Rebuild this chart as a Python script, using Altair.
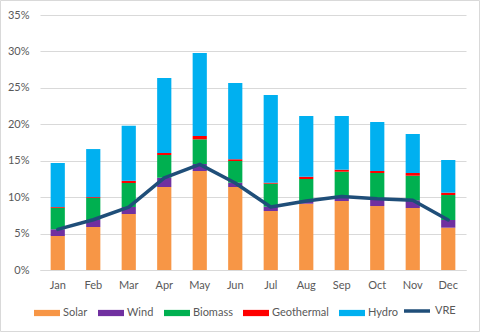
import altair as alt
import pandas as pd

months = ["Jan", "Feb", "Mar", "Apr", "May", "Jun", "Jul", "Aug", "Sep", "Oct", "Nov", "Dec"]
solar = [4.67, 5.90, 7.69, 11.39, 13.59, 11.39, 8.10, 9.10, 9.47, 8.78, 8.51, 5.81]
wind = [0.91, 0.96, 0.96, 1.28, 0.96, 0.59, 0.59, 0.37, 0.59, 1.01, 1.06, 1.05]
biomass = [2.97, 3.02, 3.29, 3.11, 3.39, 2.98, 3.16, 3.02, 3.43, 3.52, 3.37, 3.43]
geothermal = [0.10, 0.12, 0.30, 0.28, 0.45, 0.24, 0.13, 0.31, 0.28, 0.28, 0.37, 0.32]
hydro = [6.04, 6.60, 7.56, 10.29, 11.39, 10.47, 12.04, 8.34, 7.37, 6.72, 5.36, 4.49]
vre = [5.58, 6.90, 8.62, 12.65, 14.50, 11.95, 8.65, 9.47, 10.10, 9.78, 9.57, 6.86]

series = ["Solar", "Wind", "Biomass", "Geothermal", "Hydro"]
colors = ["#F79646", "#7030A0", "#00B050", "#FF0000", "#00B0F0"]
vre_color = "#1F4E79"
y_ticks = [0, 0.05, 0.10, 0.15, 0.20, 0.25, 0.30, 0.35]

rows = []
for i, m in enumerate(months):
    for k, (name, vals) in enumerate(zip(series, [solar, wind, biomass, geothermal, hydro])):
        rows.append({"month": m, "series": name, "value": vals[i] / 100, "order": k})
bars_df = pd.DataFrame(rows)
line_df = pd.DataFrame({"month": months, "line": ["VRE"] * len(months), "value": [v / 100 for v in vre]})

font = "Lato"
gray = "#595959"

x = alt.X("month:N", sort=months, title=None,
          scale=alt.Scale(paddingInner=0.6, paddingOuter=0.3),
          axis=alt.Axis(labelAngle=0, ticks=False, domainColor="#D9D9D9", labelPadding=9))
y = alt.Y("value:Q", title=None,
          scale=alt.Scale(domain=[0, 0.35], nice=False),
          axis=alt.Axis(format=".0%", values=y_ticks, domain=False, ticks=False,
                        labelPadding=11, gridColor="#D9D9D9"))

color = alt.Color("series:N",
                  scale=alt.Scale(domain=series, range=colors),
                  legend=alt.Legend(title=None, orient="none", direction="horizontal",
                                    legendX=-6, legendY=285,
                                    symbolType="M-1,-0.24H1V0.24H-1Z", symbolSize=676,
                                    symbolStrokeWidth=0, labelOffset=3, columnPadding=10,
                                    labelFontSize=11, labelColor=gray, labelFont=font))

stroke = alt.Stroke("line:N",
                    scale=alt.Scale(domain=["VRE"], range=[vre_color]),
                    legend=alt.Legend(title=None, orient="none", direction="horizontal",
                                      legendX=362, legendY=281,
                                      symbolType="stroke", symbolSize=676,
                                      symbolStrokeWidth=3.5, labelOffset=3,
                                      labelFontSize=11, labelColor=gray, labelFont=font))

bars = alt.Chart(bars_df).mark_bar().encode(
    x=x, y=alt.Y("value:Q", stack="zero", title=None,
                 scale=alt.Scale(domain=[0, 0.35], nice=False),
                 axis=alt.Axis(format=".0%", values=y_ticks, domain=False, ticks=False,
                               labelPadding=11, gridColor="#D9D9D9")),
    color=color, order=alt.Order("order:Q"))

line = alt.Chart(line_df).mark_line(strokeWidth=3.5, strokeCap="round", strokeJoin="round").encode(
    x=x, y=y, stroke=stroke)

border = alt.Chart(pd.DataFrame({"a": [0]})).mark_rect(fill="transparent", stroke="#D9D9D9", strokeWidth=1).encode(
    x=alt.value(-39.5), x2=alt.value(439.5), y=alt.value(-14.5), y2=alt.value(316.5))

chart = alt.layer(bars, line, border).properties(
    width=426, height=255,
    autosize=alt.AutoSizeParams(type="none"),
    padding={"left": 40, "top": 15, "right": 14, "bottom": 62},
).configure_view(stroke=None).configure_axis(
    labelFont=font, labelFontSize=11, labelColor=gray
)

chart.save("out.html", embed_options={"renderer": "svg", "actions": False})
